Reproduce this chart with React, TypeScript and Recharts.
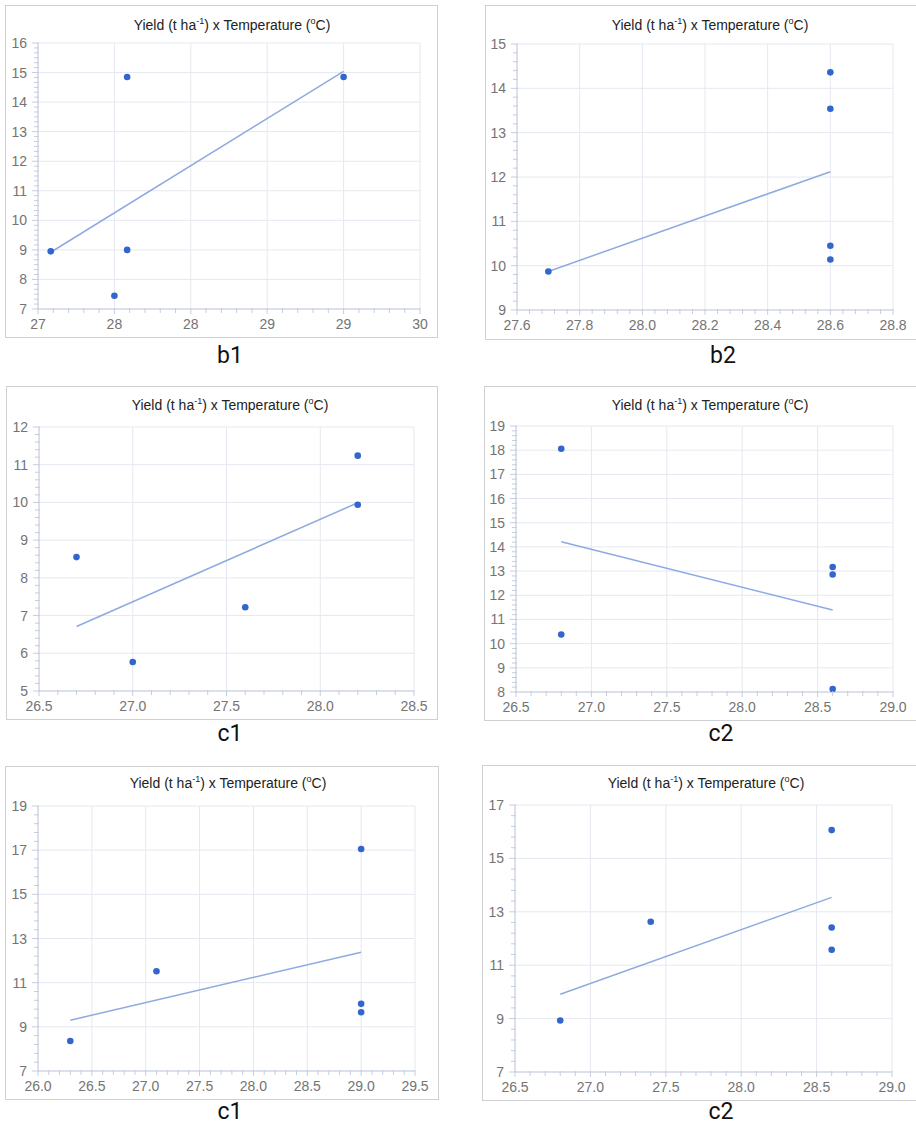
import React from "react";
import { ScatterChart, Scatter, XAxis, YAxis, CartesianGrid } from "recharts";

// b1
const b1Temp = [27.1, 27.6, 27.7, 27.7, 29.4];
const b1Yield = [8.95, 7.45, 14.85, 9.0, 14.85];
const b1TrendTemp = [27.1, 29.4];
const b1TrendYield = [8.92, 15.04];
const b1XTicks = [27, 27.6, 28.2, 28.8, 29.4, 30];
const b1YTicks = [7, 8, 9, 10, 11, 12, 13, 14, 15, 16];

// b2
const b2Temp = [27.7, 28.6, 28.6, 28.6, 28.6];
const b2Yield = [9.87, 14.36, 13.54, 10.45, 10.14];
const b2TrendTemp = [27.7, 28.6];
const b2TrendYield = [9.87, 12.12];
const b2XTicks = [27.6, 27.8, 28.0, 28.2, 28.4, 28.6, 28.8];
const b2YTicks = [9, 10, 11, 12, 13, 14, 15];

// c1 (middle row)
const c1aTemp = [26.7, 27.0, 27.6, 28.2, 28.2];
const c1aYield = [8.55, 5.77, 7.22, 11.24, 9.94];
const c1aTrendTemp = [26.7, 28.2];
const c1aTrendYield = [6.71, 9.99];
const c1aXTicks = [26.5, 27.0, 27.5, 28.0, 28.5];
const c1aYTicks = [5, 6, 7, 8, 9, 10, 11, 12];

// c2 (middle row)
const c2aTemp = [26.8, 26.8, 28.6, 28.6, 28.6];
const c2aYield = [18.06, 10.38, 13.17, 12.86, 8.12];
const c2aTrendTemp = [26.8, 28.6];
const c2aTrendYield = [14.21, 11.39];
const c2aXTicks = [26.5, 27.0, 27.5, 28.0, 28.5, 29.0];
const c2aYTicks = [8, 9, 10, 11, 12, 13, 14, 15, 16, 17, 18, 19];

// c1 (bottom row)
const c1bTemp = [26.3, 27.1, 29.0, 29.0, 29.0];
const c1bYield = [8.36, 11.52, 17.05, 10.04, 9.66];
const c1bTrendTemp = [26.3, 29.0];
const c1bTrendYield = [9.3, 12.38];
const c1bXTicks = [26.0, 26.5, 27.0, 27.5, 28.0, 28.5, 29.0, 29.5];
const c1bYTicks = [7, 9, 11, 13, 15, 17, 19];

// c2 (bottom row)
const c2bTemp = [26.8, 27.4, 28.6, 28.6, 28.6];
const c2bYield = [8.93, 12.63, 16.06, 12.41, 11.58];
const c2bTrendTemp = [26.8, 28.6];
const c2bTrendYield = [9.91, 13.54];
const c2bXTicks = [26.5, 27.0, 27.5, 28.0, 28.5, 29.0];
const c2bYTicks = [7, 9, 11, 13, 15, 17];

const AXIS = "#c6cde0";
const GRID = "#e5e8f0";
const DOT = "#3366cc";
const TREND = "#8faadf";
const TICK_TEXT = "#747474";
const NARROW = "'Liberation Sans Narrow', 'Liberation Sans', Arial, sans-serif";

const toPoints = (xs: number[], ys: number[]) => xs.map((x, i) => ({ x, y: ys[i] }));

// majors plus evenly spaced minor ticks in between
function withMinor(majors: number[], parts: number) {
  const out: number[] = [];
  for (let i = 0; i < majors.length - 1; i++) {
    const step = (majors[i + 1] - majors[i]) / parts;
    for (let k = 0; k < parts; k++) out.push(+(majors[i] + step * k).toFixed(4));
  }
  out.push(majors[majors.length - 1]);
  return out;
}

const isMajor = (v: number, majors: number[]) => majors.some((m) => Math.abs(m - v) < 1e-6);

interface PanelDef {
  label: string;
  points: { x: number; y: number }[];
  trend: { x: number; y: number }[];
  xTicks: number[];
  yTicks: number[];
  yParts: number;
  xFmt: (v: number) => string;
  box: [number, number, number, number];
  plot: [number, number, number, number];
  titleX: number;
  titleY: number;
  labelX: number;
  labelTop: number;
}

const fmt0 = (v: number) => v.toFixed(0);
const fmt1 = (v: number) => v.toFixed(1);

const panels: PanelDef[] = [
  {
    label: "b1",
    points: toPoints(b1Temp, b1Yield),
    trend: toPoints(b1TrendTemp, b1TrendYield),
    xTicks: b1XTicks,
    yTicks: b1YTicks,
    yParts: 6,
    xFmt: fmt0,
    box: [5, 5, 438, 338],
    plot: [38, 43, 420, 309],
    titleX: 232,
    titleY: 25,
    labelX: 230,
    labelTop: 345,
  },
  {
    label: "b2",
    points: toPoints(b2Temp, b2Yield),
    trend: toPoints(b2TrendTemp, b2TrendYield),
    xTicks: b2XTicks,
    yTicks: b2YTicks,
    yParts: 5,
    xFmt: fmt1,
    box: [485, 5, 917, 340],
    plot: [517, 44, 893, 310],
    titleX: 710,
    titleY: 25,
    labelX: 723,
    labelTop: 345,
  },
  {
    label: "c1",
    points: toPoints(c1aTemp, c1aYield),
    trend: toPoints(c1aTrendTemp, c1aTrendYield),
    xTicks: c1aXTicks,
    yTicks: c1aYTicks,
    yParts: 5,
    xFmt: fmt1,
    box: [6, 386, 438, 720],
    plot: [39, 427, 414, 691],
    titleX: 230,
    titleY: 405,
    labelX: 230,
    labelTop: 723,
  },
  {
    label: "c2",
    points: toPoints(c2aTemp, c2aYield),
    trend: toPoints(c2aTrendTemp, c2aTrendYield),
    xTicks: c2aXTicks,
    yTicks: c2aYTicks,
    yParts: 5,
    xFmt: fmt1,
    box: [484, 386, 917, 721],
    plot: [516, 426, 893, 692],
    titleX: 710,
    titleY: 405,
    labelX: 721,
    labelTop: 723,
  },
  {
    label: "c1",
    points: toPoints(c1bTemp, c1bYield),
    trend: toPoints(c1bTrendTemp, c1bTrendYield),
    xTicks: c1bXTicks,
    yTicks: c1bYTicks,
    yParts: 5,
    xFmt: fmt1,
    box: [5, 766, 439, 1100],
    plot: [38, 806, 415, 1071],
    titleX: 228,
    titleY: 783,
    labelX: 230,
    labelTop: 1101,
  },
  {
    label: "c2",
    points: toPoints(c2bTemp, c2bYield),
    trend: toPoints(c2bTrendTemp, c2bTrendYield),
    xTicks: c2bXTicks,
    yTicks: c2bYTicks,
    yParts: 5,
    xFmt: fmt1,
    box: [482, 765, 917, 1101],
    plot: [515, 805, 892, 1072],
    titleX: 706,
    titleY: 783,
    labelX: 721,
    labelTop: 1101,
  },
];

function XTick(props: any) {
  const { x, y, payload, majors, fmt } = props;
  const major = isMajor(payload.value, majors);
  return (
    <g>
      <line x1={x} x2={x} y1={y - 1} y2={y + (major ? 5 : 4)} stroke={AXIS} strokeWidth={1} />
      {major && (
        <text x={x} y={y + 20} textAnchor="middle" fill={TICK_TEXT} fontSize={14} fontFamily={NARROW}>
          {fmt(payload.value)}
        </text>
      )}
    </g>
  );
}

function YTick(props: any) {
  const { x, y, payload, majors } = props;
  const major = isMajor(payload.value, majors);
  return (
    <g>
      <line x1={x + 1} x2={x - (major ? 6 : 4)} y1={y} y2={y} stroke={AXIS} strokeWidth={1} />
      {major && (
        <text x={x - 11} y={y + 5} textAnchor="end" fill={TICK_TEXT} fontSize={14} fontFamily={NARROW}>
          {String(payload.value)}
        </text>
      )}
    </g>
  );
}

const YW = 30;
const XH = 24;

function Panel({ p }: { p: PanelDef }) {
  const W = p.box[2] - p.box[0];
  const H = p.box[3] - p.box[1];
  const margin = {
    left: p.plot[0] - p.box[0] - YW,
    top: p.plot[1] - p.box[1],
    right: p.box[2] - p.plot[2],
    bottom: p.box[3] - p.plot[3] - XH,
  };
  const xDomain = [p.xTicks[0], p.xTicks[p.xTicks.length - 1]];
  const yDomain = [p.yTicks[0], p.yTicks[p.yTicks.length - 1]];
  const sup = { fontSize: 9, position: "relative" as const, top: -6 };

  return (
    <>
      <div
        style={{
          position: "absolute",
          left: p.box[0],
          top: p.box[1],
          width: W,
          height: H,
          background: "#fff",
        }}
      >
        <ScatterChart width={W} height={H} margin={margin}>
          <CartesianGrid stroke={GRID} verticalValues={p.xTicks} horizontalValues={p.yTicks} />
          <XAxis
            type="number"
            dataKey="x"
            domain={xDomain}
            ticks={withMinor(p.xTicks, 5)}
            interval={0}
            allowDataOverflow
            height={XH}
            tickSize={0}
            tickMargin={0}
            tickLine={false}
            axisLine={{ stroke: AXIS }}
            tick={(t: any) => <XTick {...t} majors={p.xTicks} fmt={p.xFmt} />}
          />
          <YAxis
            type="number"
            dataKey="y"
            domain={yDomain}
            ticks={withMinor(p.yTicks, p.yParts)}
            interval={0}
            allowDataOverflow
            width={YW}
            tickSize={0}
            tickMargin={0}
            tickLine={false}
            axisLine={{ stroke: AXIS }}
            tick={(t: any) => <YTick {...t} majors={p.yTicks} />}
          />
          <Scatter
            data={p.trend}
            line={{ stroke: TREND, strokeWidth: 1.5 }}
            shape={() => <g />}
            isAnimationActive={false}
          />
          <Scatter
            data={p.points}
            fill={DOT}
            shape={(s: any) => <circle cx={s.cx} cy={s.cy} r={3.3} fill={DOT} />}
            isAnimationActive={false}
          />
        </ScatterChart>
        <div
          style={{
            position: "absolute",
            inset: 0,
            border: "1px solid #d0d0d4",
            boxSizing: "border-box",
            pointerEvents: "none",
          }}
        />
      </div>
      <div
        style={{
          position: "absolute",
          left: p.titleX - 150,
          width: 300,
          top: p.titleY - 10,
          lineHeight: "20px",
          textAlign: "center",
          fontFamily: NARROW,
          fontSize: 14,
          color: "#222",
          whiteSpace: "nowrap",
        }}
      >
        Yield (t ha<span style={sup}>-1</span>) x Temperature (<span style={sup}>o</span>C)
      </div>
      <div
        style={{
          position: "absolute",
          left: p.labelX - 50,
          width: 100,
          top: p.labelTop,
          lineHeight: "22px",
          textAlign: "center",
          fontFamily: "Roboto, 'Noto Sans', sans-serif",
          fontSize: 23,
          color: "#111",
        }}
      >
        {p.label}
      </div>
    </>
  );
}

export default function App() {
  return (
    <div
      style={{
        position: "absolute",
        left: 0,
        top: 0,
        width: 916,
        height: 1127,
        overflow: "hidden",
        background: "#fff",
      }}
    >
      {panels.map((p, i) => (
        <Panel key={i} p={p} />
      ))}
    </div>
  );
}
